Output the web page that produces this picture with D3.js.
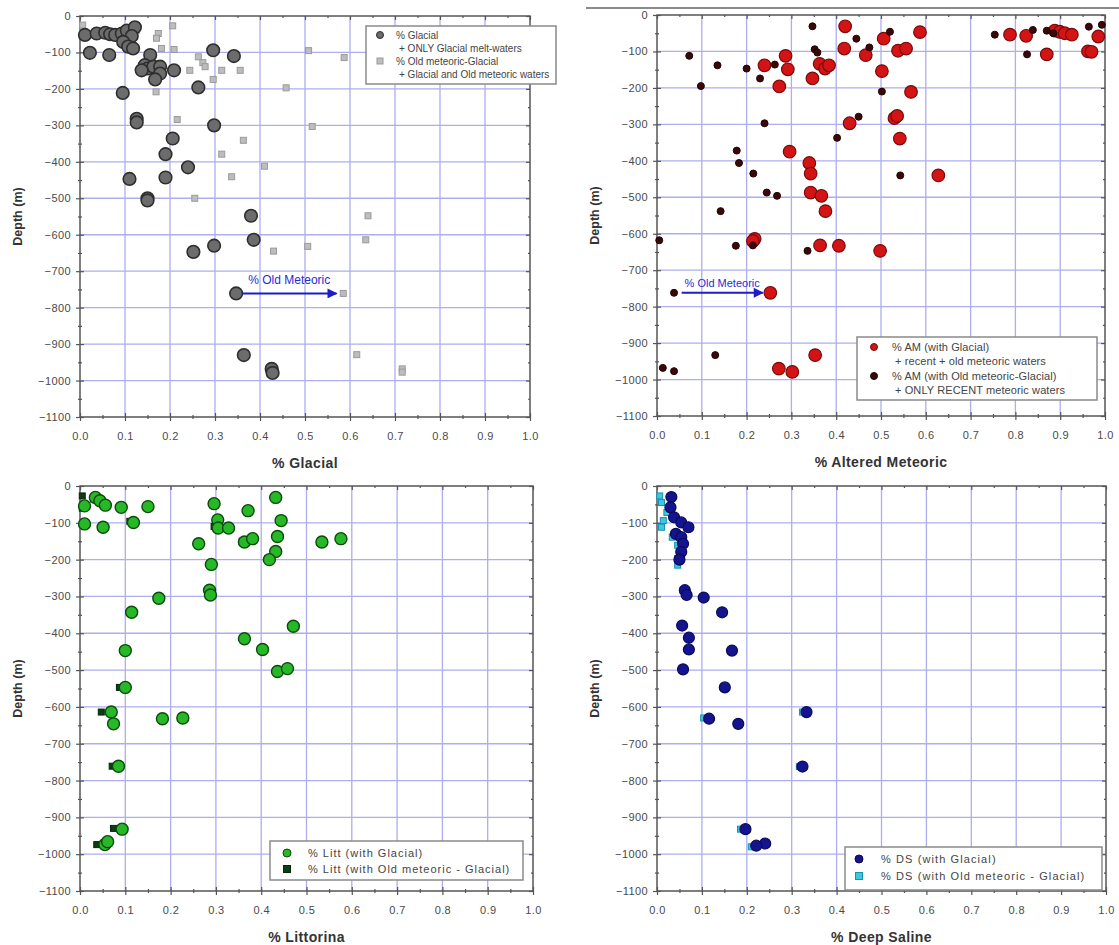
<!DOCTYPE html>
<html>
<head>
<meta charset="utf-8">
<script src="https://cdn.jsdelivr.net/npm/d3@7"></script>
<style>
  body { margin: 0; background: #fff; }
  svg { display: block; }
  text { font-family: "Liberation Sans", Arial, sans-serif; }
</style>
</head>
<body>
<svg id="chart" width="1119" height="945"></svg>
<script>
// ---- shared axis ticks ----
const xTicks = [0, 0.1, 0.2, 0.3, 0.4, 0.5, 0.6, 0.7, 0.8, 0.9, 1.0];
const xMinor = [0.05, 0.15, 0.25, 0.35, 0.45, 0.55, 0.65, 0.75, 0.85, 0.95];
const yTicks = [0, -100, -200, -300, -400, -500, -600, -700, -800, -900, -1000, -1100];
const yMinor = [-50, -150, -250, -350, -450, -550, -650, -750, -850, -950, -1050];

// ---- % Glacial: [fraction, depth m] ----
const glacialOnly = [
  [0.022, -101], [0.065, -107], [0.011, -52], [0.037, -48], [0.056, -46], [0.067, -50],
  [0.078, -52], [0.093, -48], [0.104, -40], [0.122, -31], [0.115, -55], [0.096, -71],
  [0.107, -84], [0.118, -89], [0.156, -107], [0.144, -135], [0.15, -144], [0.163, -139],
  [0.178, -139], [0.178, -158], [0.167, -174], [0.137, -149], [0.209, -149], [0.296, -94],
  [0.342, -110], [0.263, -196], [0.095, -211], [0.126, -282], [0.126, -292], [0.298, -300],
  [0.206, -336], [0.19, -379], [0.24, -415], [0.11, -447], [0.19, -443], [0.15, -500],
  [0.15, -506], [0.38, -548], [0.386, -614], [0.298, -630], [0.252, -647], [0.347, -761],
  [0.364, -930], [0.426, -968], [0.428, -979]
];
const glacialOldMeteoric = [
  [0.006, -25], [0.006, -47], [0.125, -40], [0.206, -27], [0.174, -48], [0.17, -61],
  [0.181, -89], [0.209, -92], [0.263, -112], [0.273, -128], [0.278, -139], [0.244, -149],
  [0.315, -149], [0.296, -174], [0.356, -149], [0.169, -208], [0.216, -284], [0.508, -95],
  [0.587, -114], [0.458, -197], [0.516, -303], [0.363, -341], [0.315, -379], [0.41, -412],
  [0.337, -441], [0.255, -500], [0.64, -548], [0.635, -614], [0.506, -632], [0.43, -645],
  [0.585, -761], [0.615, -929], [0.716, -968], [0.716, -977]
];

// ---- % Altered Meteoric ----
const amWithGlacial = [
  [0.42, -31], [0.418, -92], [0.287, -112], [0.24, -138], [0.292, -149], [0.273, -196],
  [0.347, -174], [0.363, -134], [0.375, -147], [0.384, -138], [0.466, -110], [0.506, -65],
  [0.502, -154], [0.538, -98], [0.556, -92], [0.587, -47], [0.567, -211], [0.43, -297],
  [0.53, -283], [0.536, -277], [0.542, -339], [0.296, -375], [0.34, -406], [0.343, -435],
  [0.343, -487], [0.367, -496], [0.376, -538], [0.628, -440], [0.218, -614], [0.214, -620],
  [0.364, -632], [0.406, -633], [0.498, -647], [0.253, -762], [0.353, -933], [0.272, -970],
  [0.302, -979], [0.788, -54], [0.824, -57], [0.87, -108], [0.888, -43], [0.899, -46],
  [0.91, -50], [0.926, -54], [0.962, -100], [0.97, -101], [0.985, -59]
];
const amWithOldMeteoric = [
  [0.072, -112], [0.098, -195], [0.135, -138], [0.2, -147], [0.23, -174], [0.263, -136],
  [0.24, -297], [0.347, -31], [0.352, -94], [0.358, -103], [0.445, -65], [0.474, -89],
  [0.52, -46], [0.502, -210], [0.402, -337], [0.45, -279], [0.178, -372], [0.183, -406],
  [0.215, -435], [0.245, -487], [0.268, -496], [0.142, -538], [0.543, -440], [0.005, -618],
  [0.214, -632], [0.176, -633], [0.336, -647], [0.038, -762], [0.13, -933], [0.013, -968],
  [0.038, -977], [0.754, -54], [0.839, -41], [0.826, -108], [0.87, -43], [0.885, -50],
  [0.964, -32], [0.993, -27]
];

// ---- % Littorina ----
const littGlacial = [
  [0.01, -103], [0.034, -31], [0.044, -40], [0.056, -52], [0.01, -54], [0.051, -112],
  [0.091, -58], [0.15, -56], [0.118, -99], [0.262, -157], [0.296, -48], [0.304, -92],
  [0.305, -114], [0.328, -114], [0.29, -213], [0.286, -283], [0.288, -296], [0.371, -67],
  [0.363, -152], [0.381, -143], [0.432, -31], [0.444, -94], [0.436, -137], [0.432, -178],
  [0.418, -200], [0.534, -152], [0.576, -143], [0.174, -305], [0.114, -343], [0.1, -447],
  [0.363, -415], [0.403, -444], [0.471, -381], [0.436, -504], [0.458, -496], [0.1, -547],
  [0.069, -614], [0.074, -646], [0.182, -632], [0.227, -630], [0.085, -761], [0.093, -932],
  [0.055, -974], [0.061, -966]
];
const littOldMeteoric = [
  [0.005, -27], [0.005, -60], [0.03, -35], [0.11, -96], [0.296, -110], [0.358, -150],
  [0.414, -198], [0.087, -547], [0.047, -614], [0.071, -761], [0.074, -930], [0.037, -974]
];

// ---- % Deep Saline ----
const dsGlacial = [
  [0.032, -30], [0.03, -58], [0.038, -85], [0.054, -99], [0.07, -112], [0.042, -130],
  [0.054, -139], [0.058, -157], [0.054, -179], [0.05, -200], [0.062, -283], [0.066, -296],
  [0.104, -303], [0.145, -343], [0.056, -379], [0.071, -412], [0.071, -444], [0.167, -447],
  [0.058, -498], [0.151, -547], [0.116, -632], [0.181, -646], [0.333, -614], [0.324, -762],
  [0.197, -932], [0.241, -971], [0.221, -977]
];
const dsOldMeteoric = [
  [0.006, -27], [0.01, -45], [0.022, -72], [0.014, -94], [0.01, -112], [0.034, -139],
  [0.046, -161], [0.046, -197], [0.046, -215], [0.058, -283], [0.056, -495], [0.104, -630],
  [0.324, -614], [0.317, -762], [0.186, -932], [0.21, -980]
];

// ---- arrow annotations: [from fraction, to fraction, depth, label depth] ----
const glacialArrow = [0.36, 0.57, -761, -725];
const amArrow = [0.055, 0.236, -762, -735];

const svg = d3.select("#chart");

const defs = svg.append("defs");
defs.append("marker")
  .attr("id", "arrowhead")
  .attr("viewBox", "0 0 10 10")
  .attr("refX", 9).attr("refY", 5)
  .attr("markerWidth", 7).attr("markerHeight", 5)
  .attr("orient", "auto")
  .append("path").attr("d", "M0,0 L10,5 L0,10 z").attr("fill", "#1c1cc8");

// thin rule above the right column
svg.append("line").attr("x1", 586).attr("x2", 1119).attr("y1", 8).attr("y2", 8)
  .attr("stroke", "#8a8a8a").attr("stroke-width", 2);

function drawPanel(p) {
  const g = svg.append("g");
  const x = d3.scaleLinear().domain([0, 1]).range([p.x0, p.x1]);
  const y = d3.scaleLinear().domain([0, -1100]).range([p.y0, p.y1]);

  // grid
  g.append("g").selectAll("line").data(xTicks.slice(1, -1)).join("line")
    .attr("x1", d => x(d)).attr("x2", d => x(d)).attr("y1", p.y0).attr("y2", p.y1)
    .attr("stroke", "#adadf0").attr("stroke-width", 1.3);
  g.append("g").selectAll("line").data(yTicks.slice(1, -1)).join("line")
    .attr("y1", d => y(d)).attr("y2", d => y(d)).attr("x1", p.x0).attr("x2", p.x1)
    .attr("stroke", "#adadf0").attr("stroke-width", 1.3);

  const styleAxis = sel => {
    sel.select(".domain").remove();
    sel.selectAll("line").attr("stroke", "#555").attr("stroke-width", 1.2);
    sel.selectAll("text").attr("fill", "#4a4a4a").attr("font-size", 11).attr("letter-spacing", 0.4);
  };

  // bottom axis: ticks cross the frame, labels well below
  g.append("g").attr("transform", `translate(0,${p.y1})`)
    .call(d3.axisBottom(x).tickValues(xTicks).tickSize(4).tickFormat(d3.format(".1f")))
    .call(styleAxis)
    .call(a => a.selectAll(".tick line").attr("y1", -4).attr("y2", 4))
    .call(a => a.selectAll(".tick text").attr("y", 19).attr("dy", "0.35em"));
  g.append("g").attr("transform", `translate(0,${p.y1})`)
    .call(d3.axisBottom(x).tickValues(xMinor).tickSize(2).tickFormat(""))
    .call(styleAxis)
    .call(a => a.selectAll(".tick line").attr("y1", -2).attr("y2", 2));
  // top axis: inward ticks
  g.append("g").attr("transform", `translate(0,${p.y0})`)
    .call(d3.axisTop(x).tickValues(xTicks).tickSize(-4).tickFormat(""))
    .call(styleAxis);
  g.append("g").attr("transform", `translate(0,${p.y0})`)
    .call(d3.axisTop(x).tickValues(xMinor).tickSize(-2).tickFormat(""))
    .call(styleAxis);
  // left axis: ticks cross the frame
  g.append("g").attr("transform", `translate(${p.x0},0)`)
    .call(d3.axisLeft(y).tickValues(yTicks).tickSize(4).tickPadding(5).tickFormat(d3.format("d")))
    .call(styleAxis)
    .call(a => a.selectAll(".tick line").attr("x1", -4).attr("x2", 4));
  g.append("g").attr("transform", `translate(${p.x0},0)`)
    .call(d3.axisLeft(y).tickValues(yMinor).tickSize(2).tickFormat(""))
    .call(styleAxis)
    .call(a => a.selectAll(".tick line").attr("x1", -2).attr("x2", 2));
  // right axis: inward ticks
  g.append("g").attr("transform", `translate(${p.x1},0)`)
    .call(d3.axisRight(y).tickValues(yTicks).tickSize(-4).tickFormat(""))
    .call(styleAxis);
  g.append("g").attr("transform", `translate(${p.x1},0)`)
    .call(d3.axisRight(y).tickValues(yMinor).tickSize(-2).tickFormat(""))
    .call(styleAxis);

  // frame
  g.append("rect").attr("x", p.x0).attr("y", p.y0)
    .attr("width", p.x1 - p.x0).attr("height", p.y1 - p.y0)
    .attr("fill", "none").attr("stroke", "#555").attr("stroke-width", 1.5);

  // titles
  g.append("text").attr("x", (p.x0 + p.x1) / 2).attr("y", p.y1 + 51)
    .attr("text-anchor", "middle").attr("font-size", 14).attr("font-weight", "bold")
    .attr("letter-spacing", 0.4).attr("fill", "#333").text(p.xTitle);
  g.append("text")
    .attr("transform", `translate(${p.x0 - 58},${(p.y0 + p.y1) / 2}) rotate(-90)`)
    .attr("text-anchor", "middle").attr("font-size", 12.5).attr("font-weight", "bold")
    .attr("fill", "#333").text("Depth (m)");

  // series
  p.series.forEach(s => {
    const layer = g.append("g");
    if (s.shape === "square") {
      layer.selectAll("rect").data(s.data).join("rect")
        .attr("x", d => x(d[0]) - s.size / 2).attr("y", d => y(d[1]) - s.size / 2)
        .attr("width", s.size).attr("height", s.size)
        .attr("fill", s.fill).attr("stroke", s.stroke).attr("stroke-width", s.sw);
    } else {
      layer.selectAll("circle").data(s.data).join("circle")
        .attr("cx", d => x(d[0])).attr("cy", d => y(d[1])).attr("r", s.size)
        .attr("fill", s.fill).attr("stroke", s.stroke).attr("stroke-width", s.sw);
    }
  });

  // annotation arrow
  if (p.arrow) {
    const [a, b, depth, labDepth] = p.arrow;
    g.append("line").attr("x1", x(a)).attr("x2", x(b)).attr("y1", y(depth)).attr("y2", y(depth))
      .attr("stroke", "#1c1cc8").attr("stroke-width", 2).attr("marker-end", "url(#arrowhead)");
    g.append("text").attr("x", x((a + b) / 2)).attr("y", y(labDepth) + 4)
      .attr("text-anchor", "middle").attr("font-size", p.arrowFont).attr("fill", "#2a2ad0")
      .text("% Old Meteoric");
  }

  // legend
  const L = p.legend;
  const lg = g.append("g");
  lg.append("rect").attr("x", L.x0).attr("y", L.y0).attr("width", L.x1 - L.x0).attr("height", L.y1 - L.y0)
    .attr("fill", "#fff").attr("stroke", "#8a8a8a").attr("stroke-width", 1.5);
  L.rows.forEach(r => {
    if (r.series) {
      const s = r.series;
      if (s.shape === "square") {
        lg.append("rect").attr("x", L.mx - L.ms).attr("y", r.y - L.ms).attr("width", 2 * L.ms).attr("height", 2 * L.ms)
          .attr("fill", s.fill).attr("stroke", s.stroke).attr("stroke-width", 1);
      } else {
        lg.append("circle").attr("cx", L.mx).attr("cy", r.y).attr("r", L.ms + 0.5)
          .attr("fill", s.fill).attr("stroke", s.stroke).attr("stroke-width", 1);
      }
    }
    lg.append("text").attr("x", r.indent ? L.tx + 3 : L.tx).attr("y", r.y + 3.5)
      .attr("font-size", L.fs).attr("letter-spacing", L.ls).attr("fill", "#444").text(r.text);
  });
}

// series styles
const sGlacial = { data: glacialOnly, shape: "circle", size: 6.3, fill: "#6c6c6c", stroke: "#2e2e2e", sw: 1.6 };
const sGlacialOld = { data: glacialOldMeteoric, shape: "square", size: 6, fill: "#bdbdbd", stroke: "#9a9a9a", sw: 1 };
const sAmGl = { data: amWithGlacial, shape: "circle", size: 6.3, fill: "#d41414", stroke: "#7a0a0a", sw: 1.2 };
const sAmOld = { data: amWithOldMeteoric, shape: "circle", size: 3.5, fill: "#3a0808", stroke: "#220404", sw: 1 };
const sLittGl = { data: littGlacial, shape: "circle", size: 6, fill: "#27b827", stroke: "#0c4a0c", sw: 1.4 };
const sLittOld = { data: littOldMeteoric, shape: "square", size: 6, fill: "#0c3e12", stroke: "#062a08", sw: 1 };
const sDsGl = { data: dsGlacial, shape: "circle", size: 5.5, fill: "#14148e", stroke: "#0a0a5a", sw: 1.2 };
const sDsOld = { data: dsOldMeteoric, shape: "square", size: 6, fill: "#3cc8e0", stroke: "#1a90b0", sw: 1 };

drawPanel({
  x0: 80, x1: 530, y0: 16, y1: 417, xTitle: "% Glacial",
  series: [sGlacialOld, sGlacial], arrow: glacialArrow, arrowFont: 12,
  legend: { x0: 366, x1: 556, y0: 26, y1: 84, mx: 380, tx: 396, ms: 3, fs: 10, ls: 0, rows: [
    { y: 35, text: "% Glacial", series: sGlacial },
    { y: 48, text: "+ ONLY Glacial melt-waters", indent: true },
    { y: 61, text: "% Old meteoric-Glacial", series: sGlacialOld },
    { y: 74, text: "+ Glacial and Old meteoric waters", indent: true }
  ]}
});

drawPanel({
  x0: 657, x1: 1105, y0: 15, y1: 416, xTitle: "% Altered Meteoric",
  series: [sAmGl, sAmOld], arrow: amArrow, arrowFont: 11,
  legend: { x0: 857, x1: 1097, y0: 337, y1: 400, mx: 874, tx: 892, ms: 3, fs: 11, ls: 0.1, rows: [
    { y: 347, text: "% AM (with Glacial)", series: sAmGl },
    { y: 361, text: "+ recent + old meteoric waters", indent: true },
    { y: 376, text: "% AM (with Old meteoric-Glacial)", series: sAmOld },
    { y: 390, text: "+ ONLY RECENT meteoric waters", indent: true }
  ]}
});

drawPanel({
  x0: 80, x1: 533, y0: 486, y1: 891, xTitle: "% Littorina",
  series: [sLittOld, sLittGl],
  legend: { x0: 270, x1: 523, y0: 841, y1: 880, mx: 287, tx: 308, ms: 3.5, fs: 11, ls: 1, rows: [
    { y: 853, text: "% Litt (with Glacial)", series: sLittGl },
    { y: 869, text: "% Litt (with Old meteoric - Glacial)", series: sLittOld }
  ]}
});

drawPanel({
  x0: 657, x1: 1106, y0: 486, y1: 891, xTitle: "% Deep Saline",
  series: [sDsOld, sDsGl],
  legend: { x0: 845, x1: 1102, y0: 847, y1: 890, mx: 859, tx: 881, ms: 3.5, fs: 11, ls: 1.1, rows: [
    { y: 859, text: "% DS (with Glacial)", series: sDsGl },
    { y: 876, text: "% DS (with Old meteoric - Glacial)", series: sDsOld }
  ]}
});
</script>
</body>
</html>
